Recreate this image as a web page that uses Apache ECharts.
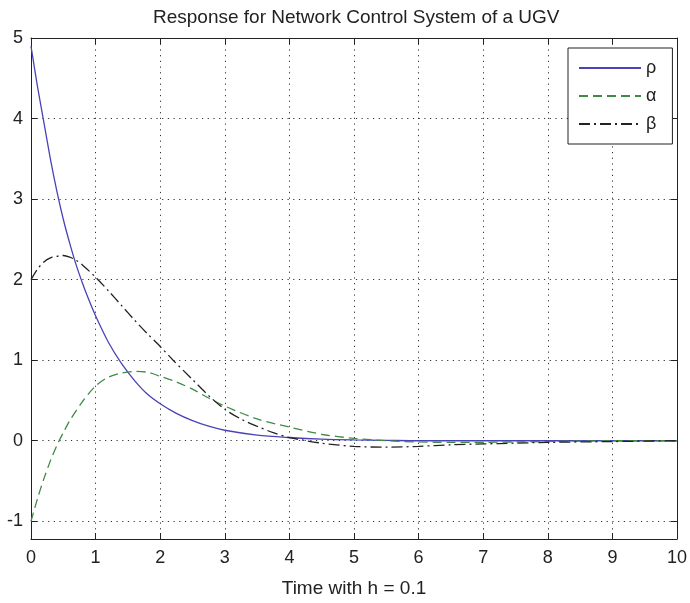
<!DOCTYPE html>
<html>
<head>
<meta charset="utf-8">
<script src="https://cdn.jsdelivr.net/npm/echarts@6/dist/echarts.min.js"></script>
<style>html,body{margin:0;padding:0;background:#fff}#c{width:690px;height:603px}</style>
</head>
<body>
<div id="c"></div>
<script>
// ---- data ----
const titleText = 'Response for Network Control System of a UGV';
const xLabelText = 'Time with h = 0.1';
const xTicks = [0,1,2,3,4,5,6,7,8,9,10];
const yTicks = [-1,0,1,2,3,4,5];
const seriesNames = ['ρ','α','β'];

const rhoT = [0,0.1,0.2,0.3,0.4,0.5,0.6,0.7,0.8,0.9,1.0,1.2,1.4,1.6,1.8,2.0,2.25,2.5,2.75,3.0,3.5,4.0,4.5,5.0,5.5,6,7,8,9,10];
const rhoV = [4.9,4.4,3.95,3.5,3.1,2.75,2.45,2.18,1.95,1.74,1.55,1.22,0.96,0.75,0.58,0.46,0.34,0.25,0.18,0.13,0.07,0.04,0.02,0.01,0.005,0,0,0,0,0];

const alphaT = [0,0.1,0.2,0.3,0.4,0.5,0.6,0.8,1.0,1.2,1.4,1.6,1.8,2.0,2.25,2.5,2.75,3.0,3.5,4.0,4.5,5.0,5.5,6.0,6.5,7.0,7.5,8.0,9.0,10];
const alphaV = [-1,-0.72,-0.47,-0.25,-0.06,0.1,0.25,0.49,0.68,0.79,0.84,0.86,0.85,0.8,0.73,0.64,0.53,0.43,0.27,0.17,0.08,0.03,0.0,-0.015,-0.02,-0.02,-0.015,-0.01,0,0];

const betaT = [0,0.1,0.2,0.3,0.4,0.5,0.6,0.7,0.8,1.0,1.2,1.4,1.6,1.8,2.0,2.2,2.5,2.75,3.0,3.25,3.5,3.75,4.0,4.5,5.0,5.5,6.0,6.5,7.0,7.5,8.0,9.0,10];
const betaV = [2.0,2.13,2.22,2.27,2.29,2.3,2.28,2.24,2.18,2.03,1.86,1.68,1.5,1.33,1.17,1.0,0.76,0.56,0.39,0.27,0.18,0.1,0.04,-0.03,-0.07,-0.08,-0.07,-0.05,-0.04,-0.03,-0.02,-0.01,0];

const pairs = (t, v) => t.map((x, i) => [x, v[i]]);
const FONT = "'Liberation Sans', Arial, Helvetica, sans-serif";
const AX = '#222';

const chart = echarts.init(document.getElementById('c'), null, {renderer: 'canvas'});
const gridLine = {show: true, lineStyle: {color: '#333', width: 1, type: [1.2, 4.5]}};
chart.setOption({
  animation: false,
  backgroundColor: '#fff',
  title: {
    text: titleText, left: 148, top: 3,
    textStyle: {fontFamily: FONT, fontSize: 19, fontWeight: 'normal', color: '#222'}
  },
  legend: {
    orient: 'vertical', left: 568, top: 48,
    backgroundColor: '#fff', borderColor: AX, borderWidth: 1,
    padding: [11, 16, 11, 10], itemWidth: 62, itemHeight: 14, itemGap: 10,
    itemStyle: {opacity: 0},
    textStyle: {fontFamily: FONT, fontSize: 18, color: '#222'},
    data: seriesNames
  },
  grid: {left: 31, right: 11, top: 38, bottom: 55, containLabel: false},
  xAxis: [{
    type: 'value', min: 0, max: 10, interval: 1,
    name: xLabelText, nameLocation: 'middle', nameGap: 40,
    nameTextStyle: {fontFamily: FONT, fontSize: 19, color: '#222'},
    axisLine: {show: true, onZero: false, lineStyle: {color: AX, width: 1}},
    axisTick: {show: true, inside: true, length: 6, lineStyle: {color: AX}},
    axisLabel: {fontFamily: FONT, fontSize: 18, color: '#222', margin: 10},
    splitLine: gridLine
  }, {
    type: 'value', position: 'top', min: 0, max: 10, interval: 1,
    axisLine: {show: true, onZero: false, lineStyle: {color: AX, width: 1}},
    axisTick: {show: true, inside: true, length: 6, lineStyle: {color: AX}},
    axisLabel: {show: false}, splitLine: {show: false}
  }],
  yAxis: [{
    type: 'value', min: -1.22, max: 5,
    axisLine: {show: true, onZero: false, lineStyle: {color: AX, width: 1}},
    axisTick: {show: true, inside: true, length: 6, lineStyle: {color: AX}, customValues: yTicks},
    axisLabel: {fontFamily: FONT, fontSize: 18, color: '#222', margin: 8, customValues: yTicks},
    splitLine: gridLine
  }, {
    type: 'value', position: 'right', min: -1.22, max: 5,
    axisLine: {show: true, onZero: false, lineStyle: {color: AX, width: 1}},
    axisTick: {show: true, inside: true, length: 6, lineStyle: {color: AX}, customValues: yTicks},
    axisLabel: {show: false}, splitLine: {show: false}
  }],
  series: [
    {name: seriesNames[0], type: 'line', data: pairs(rhoT, rhoV), symbol: 'none', smooth: 0.3,
     color: '#4a43b8', lineStyle: {color: '#4a43b8', width: 1.3, type: 'solid'}},
    {name: seriesNames[1], type: 'line', data: pairs(alphaT, alphaV), symbol: 'none', smooth: 0.3,
     color: '#3f8a47', lineStyle: {color: '#3f8a47', width: 1.3, type: [9, 5]}},
    {name: seriesNames[2], type: 'line', data: pairs(betaT, betaV), symbol: 'none', smooth: 0.3,
     color: '#222', lineStyle: {color: '#222', width: 1.3, type: [11, 4, 2, 4]}}
  ]
});
</script>
</body>
</html>
